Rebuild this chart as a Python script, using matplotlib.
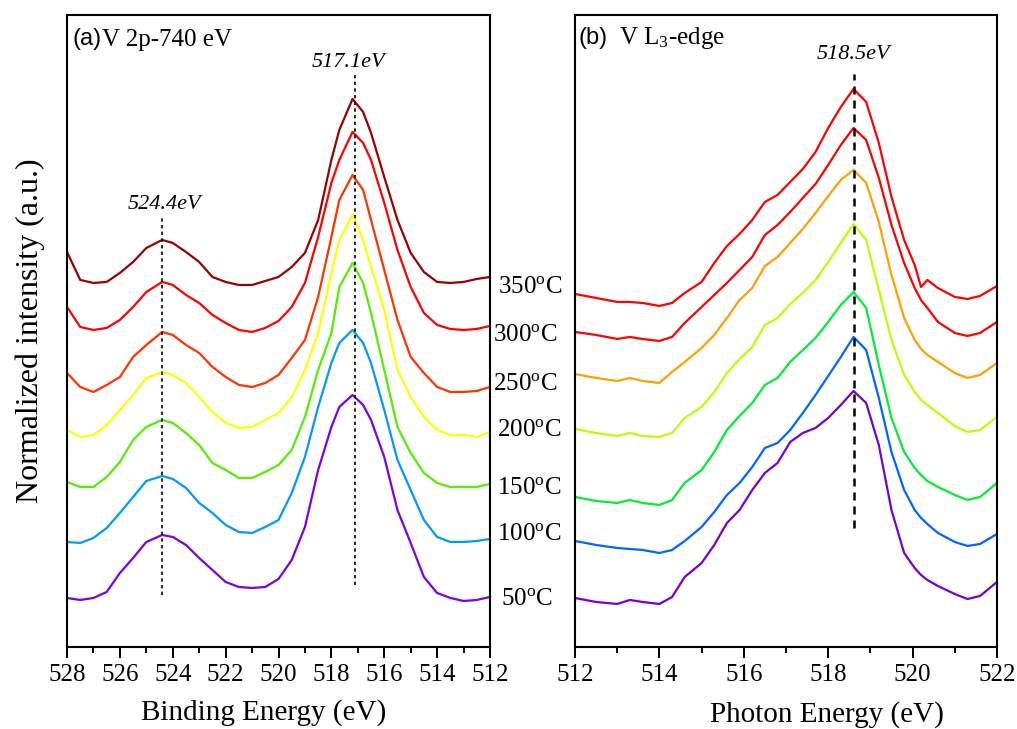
import numpy as np
import matplotlib
matplotlib.use("Agg")
import matplotlib.pyplot as plt

plt.rcParams['font.family'] = ['Liberation Serif', 'DejaVu Serif']
plt.rcParams['mathtext.fontset'] = 'custom'
plt.rcParams['mathtext.rm'] = 'Liberation Serif'
plt.rcParams['mathtext.it'] = 'Liberation Serif:italic'

# ---- (a) V 2p XPS, binding energy (eV) ----
be = [528, 527.5, 527, 526.5, 526, 525.5, 525, 524.4, 524, 523.5, 523, 522.5,
      522, 521.5, 521, 520.5, 520, 519.5, 519, 518.5, 518, 517.7, 517.2, 516.8,
      516.5, 516, 515.5, 515, 514.5, 514, 513.5, 513, 512.5, 512]

xps_350 = [395, 367, 364, 365, 374, 385, 399, 407, 404, 395, 385, 370, 365, 362,
           362, 366, 370, 380, 394, 427, 487, 517, 548, 535, 514, 470, 427, 394,
           375, 365, 364, 365, 368, 370]
xps_300 = [340, 320, 317, 319, 327, 340, 355, 365, 362, 352, 344, 332, 324, 317,
           315, 319, 326, 340, 364, 410, 464, 487, 515, 504, 487, 444, 397, 360,
           334, 322, 318, 317, 318, 321]
xps_250 = [274, 260, 255, 262, 270, 290, 302, 315, 312, 302, 294, 280, 270, 262,
           260, 264, 272, 289, 307, 350, 410, 447, 472, 457, 427, 377, 327, 290,
           274, 260, 255, 255, 256, 260]
xps_200 = [217, 210, 212, 222, 237, 252, 269, 275, 272, 264, 250, 235, 224, 219,
           220, 227, 234, 250, 277, 314, 374, 407, 432, 407, 380, 337, 277, 250,
           230, 217, 212, 212, 210, 215]
xps_150 = [165, 160, 160, 170, 185, 207, 220, 227, 224, 214, 202, 184, 177, 169,
           169, 175, 182, 197, 230, 277, 314, 360, 384, 364, 334, 277, 220, 194,
           174, 164, 160, 160, 160, 163]
xps_100 = [105, 104, 109, 119, 134, 150, 166, 171, 168, 159, 144, 134, 122, 115,
           114, 120, 127, 154, 190, 240, 284, 304, 317, 304, 284, 237, 187, 157,
           127, 110, 105, 105, 106, 108]
xps_50 = [49, 47, 49, 55, 74, 89, 105, 112, 110, 102, 89, 77, 65, 60, 59, 60, 68,
          87, 120, 177, 220, 240, 252, 242, 227, 190, 137, 104, 70, 54, 49, 46,
          47, 50]

# ---- (b) V L3-edge XAS, photon energy (eV) ----
pe = [512, 512.5, 513, 513.3, 513.6, 514, 514.3, 514.6, 515, 515.3, 515.6, 515.9,
      516.2, 516.5, 516.8, 517.1, 517.4, 517.7, 518, 518.3, 518.6, 518.9, 519.2,
      519.5, 519.8, 520.05, 520.2, 520.35, 520.6, 521, 521.3, 521.6, 522]

xas_350 = [353, 349, 345, 345, 344, 341, 344, 354, 365, 384, 401, 413, 427, 445,
           452, 465, 478, 495, 519, 540, 558, 545, 504, 450, 407, 382, 360, 367,
           359, 350, 348, 351, 361]
xas_300 = [315, 312, 308, 310, 308, 306, 310, 324, 340, 352, 364, 377, 390, 412,
           422, 435, 449, 463, 482, 502, 519, 507, 469, 422, 384, 359, 347, 339,
           325, 314, 311, 314, 325]
xas_250 = [273, 269, 266, 269, 266, 264, 275, 285, 299, 312, 329, 347, 359, 381,
           390, 404, 418, 434, 451, 467, 477, 464, 425, 372, 329, 307, 298, 292,
           285, 274, 269, 272, 284]
xas_200 = [218, 214, 211, 214, 211, 210, 214, 229, 240, 255, 274, 288, 300, 322,
           329, 343, 354, 367, 385, 404, 423, 407, 357, 307, 272, 255, 247, 242,
           234, 221, 215, 217, 230]
xas_150 = [150, 146, 144, 147, 144, 142, 147, 164, 177, 195, 217, 231, 244, 262,
           269, 285, 297, 309, 325, 342, 355, 339, 282, 229, 195, 179, 172, 166,
           160, 152, 147, 150, 164]
xas_100 = [106, 102, 99, 98, 97, 94, 97, 106, 120, 135, 152, 164, 180, 199, 204,
           217, 234, 252, 271, 290, 310, 297, 249, 195, 157, 137, 129, 123, 114,
           105, 101, 103, 113]
xas_50 = [49, 45, 43, 47, 45, 43, 50, 70, 84, 102, 124, 137, 157, 174, 184, 205,
          214, 219, 229, 242, 256, 244, 202, 137, 94, 79, 72, 67, 61, 53, 48, 51,
          65]

temps = ['350', '300', '250', '200', '150', '100', '50']
temp_y = [360, 312, 263, 217, 159, 113, 48]
temp_x = [1.018, 1.008, 1.008, 1.016, 1.016, 1.016, 1.026]

xps_colors = ['#990000', '#ff0000', '#ff3300', '#ffff00', '#55ee00', '#0099ff', '#7f00dd']
xas_colors = ['#ff0000', '#ff0000', '#ffa000', '#bbff00', '#00ee33', '#0066ff', '#7700cc']

fig = plt.figure(figsize=(10.17, 7.29), dpi=100)
ax1 = fig.add_axes([0.0659, 0.1125, 0.4159, 0.867])
ax2 = fig.add_axes([0.5654, 0.1125, 0.4149, 0.867])

for y, c in zip([xps_350, xps_300, xps_250, xps_200, xps_150, xps_100, xps_50], xps_colors):
    ax1.plot(be, y, color=c, lw=1.6)
for y, c in zip([xas_350, xas_300, xas_250, xas_200, xas_150, xas_100, xas_50], xas_colors):
    ax2.plot(pe, y, color=c, lw=1.6)

# peak position markers
ax1.plot([524.4, 524.4], [52, 429], color='k', lw=1.2, ls=(0, (2, 2)))
ax1.plot([517.1, 517.1], [62, 575], color='k', lw=1.2, ls=(0, (2, 2)))
ax2.plot([518.6, 518.6], [119, 573], color='k', lw=1.8, ls=(0, (3.2, 2.4)))

ax1.text(524.3, 442, '524.4eV', style='italic', fontsize=16, ha='center', va='center')
ax1.text(517.37, 584, '517.1eV', style='italic', fontsize=16, ha='center', va='center')
ax2.text(518.6, 592, '518.5eV', style='italic', fontsize=16, ha='center', va='center')

ax1.text(0.012, 0.962, '(a)', family='Liberation Sans', fontsize=17,
         transform=ax1.transAxes, va='center')
ax1.text(0.083, 0.960, 'V 2p-740 eV', fontsize=18, transform=ax1.transAxes, va='center')
ax2.text(0.008, 0.964, '(b)', family='Liberation Sans', fontsize=17,
         transform=ax2.transAxes, va='center')
ax2.text(0.105, 0.964, 'V L$_{3}$-edge', fontsize=18, transform=ax2.transAxes, va='center')

for t, y, xo in zip(temps, temp_y, temp_x):
    ax1.text(xo, y, t + '$^{\\rm o}$C', fontsize=18, va='center',
             transform=ax1.get_yaxis_transform(), clip_on=False)

ax1.set_xlim(528, 512)
ax2.set_xlim(512, 522)
for ax in (ax1, ax2):
    ax.set_ylim(0, 632)
    ax.set_yticks([])
    for s in ax.spines.values():
        s.set_linewidth(1.5)
    ax.tick_params(axis='x', which='major', direction='out', length=8, width=1.4,
                   labelsize=18, pad=4, top=False)
    ax.tick_params(axis='x', which='minor', direction='out', length=4, width=1.4, top=False)

ax1.set_xticks(np.arange(512, 529, 2))
ax1.set_xticks(np.arange(512, 529, 1), minor=True)
ax2.set_xticks(np.arange(512, 523, 2))
ax2.set_xticks(np.arange(512, 523, 1), minor=True)

ax1.text(0.466, -0.104, 'Binding Energy (eV)', fontsize=21, ha='center', va='center',
         transform=ax1.transAxes)
ax2.text(0.597, -0.107, 'Photon Energy (eV)', fontsize=21, ha='center', va='center',
         transform=ax2.transAxes)
fig.text(0.030, 0.546, 'Normalized intensity (a.u.)', fontsize=23, rotation=90,
         ha='center', va='center')

fig.savefig('out.png', dpi=100)
